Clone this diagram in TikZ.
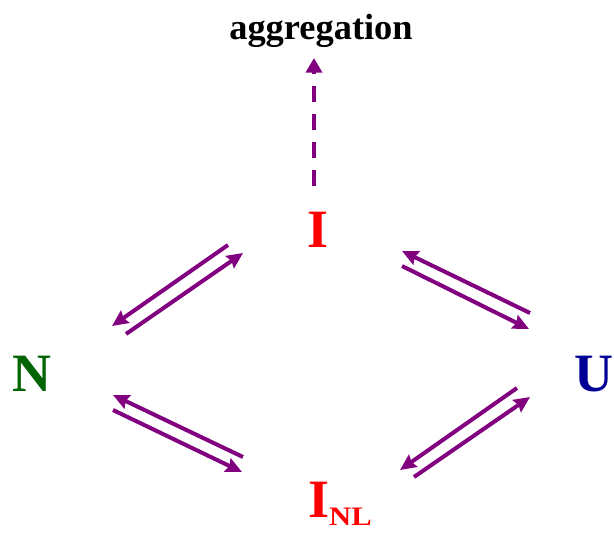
\documentclass[tikz,border=0pt]{standalone}
\usepackage{fontspec}
\setmainfont{Liberation Serif}
\usetikzlibrary{arrows.meta}

\definecolor{statered}{RGB}{255,0,0}
\definecolor{stategreen}{RGB}{0,100,0}
\definecolor{stateblue}{RGB}{0,0,150}
\definecolor{flowpurple}{RGB}{128,0,128}

\begin{document}
\begin{tikzpicture}[x=0.75pt, y=-0.75pt,
    state/.style={inner sep=0pt, anchor=base, font=\fontsize{40.5}{44}\selectfont\bfseries},
    flow/.style={draw=flowpurple, line width=3pt, -{Stealth[length=12pt, width=11pt, inset=1.5pt]}},
    agg/.style={draw=flowpurple, line width=3pt, dash pattern=on 12pt off 9pt, -{Triangle[length=11pt, width=12pt]}}]
  \useasboundingbox (0,0) rectangle (614,535);
  \node[state, font=\fontsize{27.3}{30}\selectfont\bfseries] (agg) at (321,40) {aggregation};
  \node[state, text=statered] (i) at (318,247) {I};
  \node[state, text=stategreen] (n) at (32,391) {N};
  \node[state, text=stateblue] (u) at (594,391) {U};
  \node[state, text=statered] (inl) at (340,517) {I\raisebox{-6pt}{\scalebox{1.15}[1]{\fontsize{20}{22}\selectfont NL}}};
  % I <-> N
  \draw[flow] ([shift={(-90,-2)}]i.base) -- ([shift={(80,-65)}]n.base);
  \draw[flow] ([shift={(94,-57)}]n.base) -- ([shift={(-75,6)}]i.base);
  % I <-> U
  \draw[flow] ([shift={(-64,-78)}]u.base) -- ([shift={(84,4)}]i.base);
  \draw[flow] ([shift={(84,19)}]i.base) -- ([shift={(-65,-62)}]u.base);
  % N <-> I_NL
  \draw[flow] ([shift={(-97,-60)}]inl.base) -- ([shift={(81,4)}]n.base);
  \draw[flow] ([shift={(81,19)}]n.base) -- ([shift={(-98,-45)}]inl.base);
  % I_NL <-> U
  \draw[flow] ([shift={(-77,-3)}]u.base) -- ([shift={(60,-47)}]inl.base);
  \draw[flow] ([shift={(74,-40)}]inl.base) -- ([shift={(-64,6)}]u.base);
  % aggregation
  \draw[agg] ([shift={(-4,-61)}]i.base) -- ([shift={(-7,18)}]agg.base);
\end{tikzpicture}
\end{document}
